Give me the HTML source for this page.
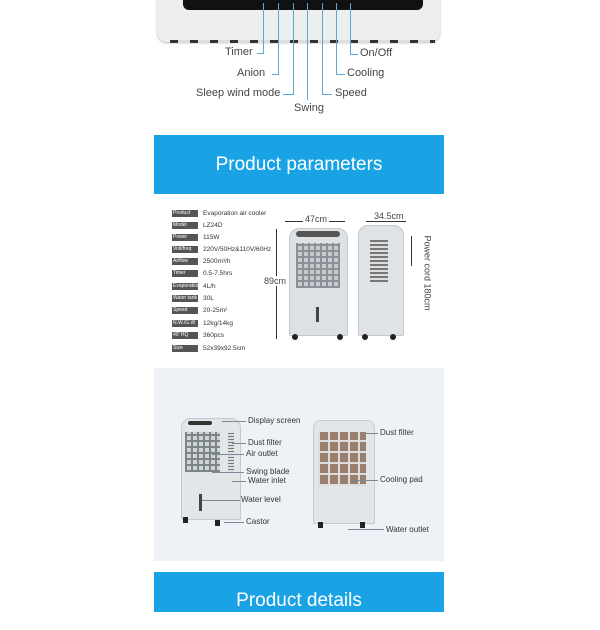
<!DOCTYPE html>
<html><head><meta charset="utf-8"><style>
body{margin:0;width:600px;height:600px;background:#fff;position:relative;overflow:hidden;font-family:"Liberation Sans",sans-serif}
.a{position:absolute}
.t{position:absolute;font-size:11px;color:#444;white-space:nowrap}
.lb{position:absolute;left:172px;width:25px;height:7px;background:#555;color:#fff;font-size:5px;line-height:7px;padding-left:1px}
.v{position:absolute;left:203px;font-size:6.5px;color:#333;line-height:7px}
.ln{position:absolute;background:#5aa8d8}
.s{font-size:8px;color:#333;position:absolute;white-space:nowrap}
.sl{position:absolute;height:1px;background:#7a8a99}
</style></head><body>
<!-- top product -->
<div class="a" style="left:157px;top:-10px;width:283px;height:52px;background:#eceef0;border-radius:0 0 10px 10px;box-shadow:0 1px 2px #bbb"></div>
<div class="a" style="left:183px;top:-5px;width:240px;height:15px;background:#111;border-radius:0 0 6px 6px"></div>
<div class="a" style="left:170px;top:40px;width:265px;height:3px;background:repeating-linear-gradient(90deg,#333 0 8px,#ddd 8px 20px)"></div>
<div class="ln" style="left:263px;top:3px;width:1px;height:50px"></div><div class="ln" style="left:257px;top:53px;width:7px;height:1px"></div>
<div class="ln" style="left:278px;top:3px;width:1px;height:71px"></div><div class="ln" style="left:272px;top:74px;width:7px;height:1px"></div>
<div class="ln" style="left:293px;top:3px;width:1px;height:91px"></div><div class="ln" style="left:283px;top:94px;width:11px;height:1px"></div>
<div class="ln" style="left:307px;top:3px;width:1px;height:97px"></div>
<div class="ln" style="left:322px;top:3px;width:1px;height:91px"></div><div class="ln" style="left:322px;top:94px;width:10px;height:1px"></div>
<div class="ln" style="left:336px;top:3px;width:1px;height:71px"></div><div class="ln" style="left:336px;top:74px;width:9px;height:1px"></div>
<div class="ln" style="left:350px;top:3px;width:1px;height:51px"></div><div class="ln" style="left:350px;top:54px;width:8px;height:1px"></div>
<div class="t" style="left:225px;top:46px">Timer</div>
<div class="t" style="left:237px;top:67px">Anion</div>
<div class="t" style="left:196px;top:87px">Sleep wind mode</div>
<div class="t" style="left:294px;top:102px">Swing</div>
<div class="t" style="left:335px;top:87px">Speed</div>
<div class="t" style="left:347px;top:67px">Cooling</div>
<div class="t" style="left:360px;top:47px">On/Off</div>
<!-- banner -->
<div class="a" style="left:154px;top:135px;width:290px;height:59px;background:#19a3e4;color:#fff;font-size:19px;text-align:center;line-height:59px">Product parameters</div>
<!-- table -->
<div class="lb" style="top:210px">Product</div><div class="v" style="top:210px">Evaporation air cooler</div>
<div class="lb" style="top:222px">Model</div><div class="v" style="top:222px">LZ24D</div>
<div class="lb" style="top:234px">Power</div><div class="v" style="top:234px">115W</div>
<div class="lb" style="top:246px">Volt/freq</div><div class="v" style="top:246px">220V/50Hz&amp;110V/60Hz</div>
<div class="lb" style="top:258px">Airflow</div><div class="v" style="top:258px">2500m³/h</div>
<div class="lb" style="top:270px">Timer</div><div class="v" style="top:270px">0.5-7.5hrs</div>
<div class="lb" style="top:283px">Evaporation</div><div class="v" style="top:283px">4L/h</div>
<div class="lb" style="top:295px">Water tank</div><div class="v" style="top:295px">30L</div>
<div class="lb" style="top:307px">Speed</div><div class="v" style="top:307px">20-25m²</div>
<div class="lb" style="top:320px">N.W./G.W</div><div class="v" style="top:320px">12kg/14kg</div>
<div class="lb" style="top:332px">40' HQ</div><div class="v" style="top:332px">360pcs</div>
<div class="lb" style="top:345px">Size</div><div class="v" style="top:345px">52x39x92.5cm</div>
<!-- dims -->
<div class="a" style="left:285px;top:221px;width:60px;height:1px;background:#333"></div>
<div class="t" style="left:303px;top:214px;font-size:9px;background:#fff;padding:0 2px">47cm</div>
<div class="a" style="left:276px;top:229px;width:1px;height:110px;background:#333"></div>
<div class="t" style="left:264px;top:276px;font-size:9px;background:#fff">89cm</div>
<div class="a" style="left:366px;top:221px;width:40px;height:1px;background:#333"></div>
<div class="t" style="left:374px;top:211px;font-size:9px;background:#fff">34.5cm</div>
<div class="a" style="left:411px;top:236px;width:1px;height:30px;background:#333"></div>
<div class="t" style="left:390px;top:268px;font-size:9px;transform:rotate(90deg)">Power cord 180cm</div>
<!-- front cooler -->
<div class="a" style="left:289px;top:228px;width:57px;height:106px;background:#dde1e4;border-radius:10px 10px 2px 2px;border:1px solid #c4c9cd"></div>
<div class="a" style="left:296px;top:231px;width:44px;height:6px;background:#555;border-radius:3px"></div>
<div class="a" style="left:296px;top:243px;width:44px;height:45px;background:repeating-linear-gradient(90deg,#8a9096 0 2px,transparent 2px 6px),repeating-linear-gradient(0deg,#8a9096 0 2px,#c6cbcf 2px 6px)"></div>
<div class="a" style="left:316px;top:307px;width:3px;height:15px;background:#444"></div>
<div class="a" style="left:292px;top:334px;width:6px;height:6px;background:#222;border-radius:3px"></div>
<div class="a" style="left:337px;top:334px;width:6px;height:6px;background:#222;border-radius:3px"></div>
<!-- side -->
<div class="a" style="left:358px;top:225px;width:44px;height:109px;background:#e0e3e6;border-radius:10px 10px 2px 2px;border:1px solid #c4c9cd"></div>
<div class="a" style="left:370px;top:240px;width:18px;height:42px;background:repeating-linear-gradient(0deg,#777 0 2px,#ddd 2px 4px)"></div>
<div class="a" style="left:362px;top:334px;width:6px;height:6px;background:#222;border-radius:3px"></div>
<div class="a" style="left:390px;top:334px;width:6px;height:6px;background:#222;border-radius:3px"></div>
<!-- section 3 -->
<div class="a" style="left:154px;top:368px;width:290px;height:193px;background:#eef2f6"></div>
<div class="a" style="left:181px;top:418px;width:58px;height:100px;background:#e2e6e8;border-radius:10px 10px 2px 2px;border:1px solid #c4c9cd"></div>
<div class="a" style="left:188px;top:421px;width:24px;height:4px;background:#333;border-radius:2px"></div>
<div class="a" style="left:185px;top:432px;width:35px;height:40px;background:repeating-linear-gradient(90deg,#7d848a 0 2px,transparent 2px 6px),repeating-linear-gradient(0deg,#7d848a 0 2px,#cfd4d7 2px 6px)"></div>
<div class="a" style="left:228px;top:433px;width:6px;height:40px;background:repeating-linear-gradient(0deg,#777 0 1px,#ddd 1px 3px)"></div>
<div class="a" style="left:199px;top:494px;width:3px;height:17px;background:#444"></div>
<div class="a" style="left:183px;top:517px;width:5px;height:6px;background:#222"></div>
<div class="a" style="left:215px;top:520px;width:5px;height:6px;background:#222"></div>
<div class="a" style="left:313px;top:420px;width:60px;height:102px;background:#e2e6e8;border-radius:8px 8px 2px 2px;border:1px solid #c4c9cd"></div>
<div class="a" style="left:318px;top:432px;width:48px;height:54px;background:repeating-linear-gradient(90deg,#ddd 0 2px,transparent 2px 10px),repeating-linear-gradient(0deg,#ddd 0 2px,#9a7f6c 2px 11px)"></div>
<div class="a" style="left:318px;top:522px;width:5px;height:6px;background:#222"></div>
<div class="a" style="left:360px;top:522px;width:5px;height:6px;background:#222"></div>
<div class="sl" style="left:222px;top:421px;width:24px"></div><div class="s" style="left:248px;top:416px">Display screen</div>
<div class="sl" style="left:232px;top:443px;width:14px"></div><div class="s" style="left:248px;top:438px">Dust filter</div>
<div class="sl" style="left:212px;top:454px;width:32px"></div><div class="s" style="left:246px;top:449px">Air outlet</div>
<div class="sl" style="left:212px;top:472px;width:32px"></div><div class="s" style="left:246px;top:467px">Swing blade</div>
<div class="sl" style="left:232px;top:481px;width:14px"></div><div class="s" style="left:248px;top:476px">Water inlet</div>
<div class="sl" style="left:202px;top:500px;width:38px"></div><div class="s" style="left:241px;top:495px">Water level</div>
<div class="sl" style="left:224px;top:522px;width:20px"></div><div class="s" style="left:246px;top:517px">Castor</div>
<div class="sl" style="left:362px;top:433px;width:16px"></div><div class="s" style="left:380px;top:428px">Dust filter</div>
<div class="sl" style="left:350px;top:480px;width:28px"></div><div class="s" style="left:380px;top:475px">Cooling pad</div>
<div class="sl" style="left:348px;top:529px;width:36px"></div><div class="s" style="left:386px;top:525px">Water outlet</div>
<!-- bottom banner -->
<div class="a" style="left:154px;top:572px;width:290px;height:40px;background:#19a3e4;color:#fff;font-size:19px;text-align:center;line-height:58px">Product details</div>
</body></html>
